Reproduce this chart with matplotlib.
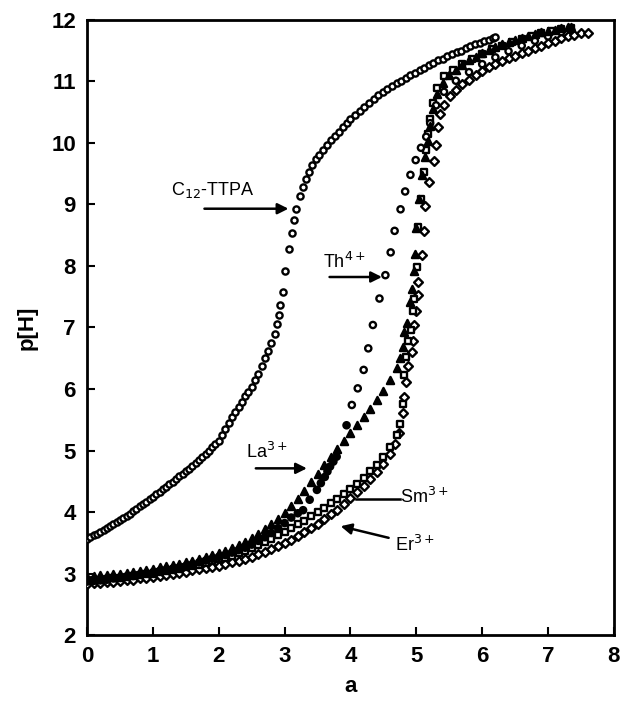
import matplotlib
matplotlib.use("Agg")
import matplotlib.pyplot as plt
import numpy as np

plt.rcParams['font.family'] = ['Liberation Sans', 'DejaVu Sans']

# ---------------- data ----------------
c12_x = [0.00, 0.05, 0.10, 0.15, 0.20, 0.25, 0.30, 0.35, 0.40, 0.45, 0.50, 0.55, 0.60, 0.65, 0.70,
         0.75, 0.80, 0.85, 0.90, 0.95, 1.00, 1.05, 1.10, 1.15, 1.20, 1.25, 1.30, 1.35, 1.40, 1.45,
         1.50, 1.55, 1.60, 1.65, 1.70, 1.75, 1.80, 1.85, 1.90, 1.95, 2.00, 2.05, 2.10, 2.15, 2.20,
         2.25, 2.30, 2.35, 2.40, 2.45, 2.50, 2.55, 2.60, 2.65, 2.70, 2.75, 2.80, 2.85, 2.88, 2.91,
         2.93, 2.97, 3.01, 3.06, 3.11, 3.14, 3.18, 3.24, 3.28, 3.32, 3.37, 3.42, 3.47, 3.52, 3.58,
         3.64, 3.70, 3.76, 3.82, 3.88, 3.94, 4.00, 4.07, 4.14, 4.21, 4.28, 4.35, 4.42, 4.49, 4.56,
         4.63, 4.70, 4.77, 4.84, 4.91, 4.98, 5.05, 5.12, 5.19, 5.26, 5.33, 5.40, 5.47, 5.54, 5.61,
         5.68, 5.75, 5.82, 5.89, 5.96, 6.03, 6.10, 6.17, 6.20]
c12_y = [3.56, 3.59, 3.62, 3.65, 3.68, 3.71, 3.74, 3.77, 3.80, 3.83, 3.87, 3.90, 3.94, 3.97, 4.01,
         4.05, 4.09, 4.13, 4.17, 4.21, 4.25, 4.29, 4.33, 4.37, 4.41, 4.45, 4.49, 4.53, 4.58, 4.62,
         4.66, 4.70, 4.75, 4.80, 4.85, 4.90, 4.95, 5.00, 5.05, 5.10, 5.16, 5.25, 5.35, 5.45, 5.54,
         5.62, 5.70, 5.79, 5.88, 5.95, 6.03, 6.14, 6.25, 6.37, 6.50, 6.62, 6.75, 6.90, 7.05, 7.20,
         7.36, 7.57, 7.91, 8.28, 8.53, 8.74, 8.93, 9.14, 9.29, 9.41, 9.53, 9.64, 9.73, 9.81, 9.89,
         9.97, 10.04, 10.11, 10.18, 10.25, 10.32, 10.38, 10.45, 10.52, 10.59, 10.65, 10.71, 10.77, 10.82, 10.87,
         10.92, 10.97, 11.01, 11.06, 11.10, 11.14, 11.18, 11.22, 11.26, 11.30, 11.34, 11.37, 11.41, 11.44, 11.47,
         11.50, 11.54, 11.57, 11.60, 11.63, 11.66, 11.68, 11.71, 11.72]

th_x = [0.0, 0.1, 0.2, 0.3, 0.4, 0.5, 0.6, 0.7, 0.8, 0.9, 1.0, 1.1, 1.2, 1.3, 1.4, 1.5, 1.6, 1.7,
        1.8, 1.9, 2.0, 2.1, 2.2, 2.3, 2.4, 2.5, 2.6, 2.7, 2.8, 2.9, 3.0, 3.1, 3.2, 3.28, 3.38, 3.49,
        3.55, 3.61, 3.65, 3.69, 3.74, 3.79, 3.94, 4.02, 4.11, 4.20, 4.27, 4.34, 4.44, 4.53, 4.61,
        4.67, 4.76, 4.83, 4.91, 4.99, 5.07, 5.15, 5.21, 5.30, 5.42, 5.60, 5.80, 6.00, 6.20, 6.40,
        6.60, 6.80, 7.00, 7.20, 7.35]
th_y = [2.87, 2.88, 2.89, 2.90, 2.92, 2.93, 2.95, 2.96, 2.98, 3.00, 3.02, 3.04, 3.06, 3.08, 3.10,
        3.12, 3.15, 3.18, 3.21, 3.24, 3.27, 3.30, 3.34, 3.38, 3.42, 3.47, 3.53, 3.59, 3.66, 3.74,
        3.82, 3.91, 3.98, 4.03, 4.20, 4.36, 4.47, 4.57, 4.66, 4.74, 4.82, 4.90, 5.41, 5.74, 6.01,
        6.31, 6.66, 7.04, 7.47, 7.85, 8.22, 8.57, 8.92, 9.21, 9.48, 9.72, 9.92, 10.10, 10.32, 10.61,
        10.83, 11.01, 11.15, 11.28, 11.39, 11.49, 11.58, 11.66, 11.73, 11.80, 11.84]

la_x = [0.0, 0.1, 0.2, 0.3, 0.4, 0.5, 0.6, 0.7, 0.8, 0.9, 1.0, 1.1, 1.2, 1.3, 1.4, 1.5, 1.6, 1.7,
        1.8, 1.9, 2.0, 2.1, 2.2, 2.3, 2.4, 2.5, 2.6, 2.7, 2.8, 2.9, 3.0, 3.1, 3.2, 3.3, 3.4, 3.5,
        3.6, 3.7, 3.8, 3.9, 4.0, 4.1, 4.2, 4.3, 4.4, 4.5, 4.6, 4.7, 4.75, 4.8, 4.82, 4.86, 4.90,
        4.93, 4.96, 4.98, 5.00, 5.04, 5.08, 5.13, 5.17, 5.21, 5.26, 5.32, 5.40, 5.50, 5.60, 5.70,
        5.80, 5.90, 6.00, 6.10, 6.20, 6.30, 6.40, 6.50, 6.60, 6.70, 6.80, 6.90, 7.00, 7.10, 7.20,
        7.30, 7.35]
la_y = [2.95, 2.96, 2.97, 2.98, 2.99, 3.00, 3.01, 3.03, 3.04, 3.06, 3.08, 3.10, 3.12, 3.14, 3.16,
        3.18, 3.21, 3.24, 3.27, 3.30, 3.33, 3.37, 3.41, 3.46, 3.51, 3.57, 3.64, 3.72, 3.80, 3.89,
        3.98, 4.09, 4.21, 4.34, 4.48, 4.62, 4.76, 4.90, 5.03, 5.16, 5.29, 5.42, 5.55, 5.68, 5.82,
        5.97, 6.14, 6.34, 6.50, 6.68, 6.93, 7.07, 7.42, 7.62, 7.91, 8.20, 8.61, 9.08, 9.48, 9.77,
        10.03, 10.28, 10.55, 10.80, 10.98, 11.10, 11.19, 11.27, 11.34, 11.40, 11.46, 11.51, 11.56, 11.60, 11.64,
        11.68, 11.71, 11.74, 11.77, 11.80, 11.82, 11.84, 11.86, 11.88, 11.89]

sm_x = [0.0, 0.1, 0.2, 0.3, 0.4, 0.5, 0.6, 0.7, 0.8, 0.9, 1.0, 1.1, 1.2, 1.3, 1.4, 1.5, 1.6, 1.7,
        1.8, 1.9, 2.0, 2.1, 2.2, 2.3, 2.4, 2.5, 2.6, 2.7, 2.8, 2.9, 3.0, 3.1, 3.2, 3.3, 3.4, 3.5,
        3.6, 3.7, 3.8, 3.9, 4.0, 4.1, 4.2, 4.3, 4.4, 4.5, 4.6, 4.7, 4.75, 4.80, 4.82, 4.85, 4.88,
        4.92, 4.95, 4.97, 5.01, 5.02, 5.07, 5.11, 5.14, 5.18, 5.21, 5.26, 5.32, 5.42, 5.55, 5.70,
        5.85, 6.00, 6.15, 6.30, 6.45, 6.60, 6.75, 6.90, 7.05, 7.20, 7.35]
sm_y = [2.88, 2.89, 2.90, 2.91, 2.92, 2.93, 2.94, 2.96, 2.97, 2.99, 3.00, 3.02, 3.04, 3.06, 3.08,
        3.10, 3.12, 3.14, 3.17, 3.20, 3.23, 3.26, 3.29, 3.33, 3.37, 3.41, 3.46, 3.51, 3.56, 3.62,
        3.68, 3.74, 3.80, 3.86, 3.93, 4.00, 4.07, 4.14, 4.21, 4.29, 4.37, 4.46, 4.56, 4.66, 4.77,
        4.90, 5.05, 5.25, 5.43, 5.75, 6.23, 6.52, 6.78, 6.96, 7.26, 7.47, 7.99, 8.64, 9.08, 9.52,
        9.88, 10.14, 10.39, 10.65, 10.90, 11.08, 11.18, 11.28, 11.37, 11.45, 11.52, 11.58, 11.64, 11.69, 11.74,
        11.78, 11.82, 11.85, 11.87]

er_x = [0.0, 0.1, 0.2, 0.3, 0.4, 0.5, 0.6, 0.7, 0.8, 0.9, 1.0, 1.1, 1.2, 1.3, 1.4, 1.5, 1.6, 1.7,
        1.8, 1.9, 2.0, 2.1, 2.2, 2.3, 2.4, 2.5, 2.6, 2.7, 2.8, 2.9, 3.0, 3.1, 3.2, 3.3, 3.4, 3.5,
        3.6, 3.7, 3.8, 3.9, 4.0, 4.1, 4.2, 4.3, 4.4, 4.5, 4.6, 4.67, 4.73, 4.79, 4.82, 4.85, 4.88,
        4.94, 4.95, 4.97, 5.00, 5.03, 5.03, 5.09, 5.12, 5.13, 5.19, 5.27, 5.30, 5.33, 5.36, 5.42,
        5.51, 5.60, 5.70, 5.80, 5.90, 6.00, 6.10, 6.20, 6.30, 6.40, 6.50, 6.60, 6.70, 6.80, 6.90,
        7.00, 7.10, 7.20, 7.30, 7.40, 7.50, 7.60]
er_y = [2.83, 2.84, 2.85, 2.86, 2.87, 2.88, 2.89, 2.90, 2.92, 2.93, 2.95, 2.96, 2.98, 2.99, 3.01,
        3.03, 3.05, 3.07, 3.09, 3.11, 3.13, 3.15, 3.18, 3.21, 3.24, 3.27, 3.31, 3.35, 3.40, 3.45,
        3.50, 3.55, 3.61, 3.67, 3.74, 3.81, 3.88, 3.96, 4.04, 4.13, 4.22, 4.32, 4.42, 4.53, 4.65,
        4.78, 4.94, 5.10, 5.28, 5.61, 5.87, 6.12, 6.38, 6.60, 6.78, 7.04, 7.26, 7.52, 7.74, 8.17,
        8.57, 8.97, 9.37, 9.70, 9.97, 10.25, 10.47, 10.61, 10.76, 10.86, 10.95, 11.03, 11.10, 11.17, 11.23,
        11.28, 11.33, 11.38, 11.42, 11.46, 11.50, 11.54, 11.58, 11.62, 11.66, 11.70, 11.73, 11.76, 11.78, 11.78]

x_ticks = [0, 1, 2, 3, 4, 5, 6, 7, 8]
y_ticks = [2, 3, 4, 5, 6, 7, 8, 9, 10, 11, 12]

# ---------------- figure ----------------
fig = plt.figure(figsize=(6.22, 7.08), dpi=100)
ax = fig.add_axes([0.140, 0.103, 0.847, 0.869])

ms = 20
lw_m = 1.7
ax.scatter(er_x, er_y, s=ms, marker='D', facecolors='white', edgecolors='black', linewidths=lw_m, zorder=3)
ax.scatter(sm_x, sm_y, s=ms, marker='s', facecolors='white', edgecolors='black', linewidths=lw_m, zorder=3)
th_fc = ['black' if xv < 3.97 else 'white' for xv in th_x]
ax.scatter(th_x, th_y, s=ms, marker='o', facecolors=th_fc, edgecolors='black', linewidths=lw_m, zorder=4)
ax.scatter(la_x, la_y, s=ms + 6, marker='^', facecolors='black', edgecolors='black', linewidths=lw_m, zorder=4)
ax.scatter(c12_x, c12_y, s=ms, marker='o', facecolors='white', edgecolors='black', linewidths=lw_m, zorder=4)

ax.set_xlim(0, 8)
ax.set_ylim(2, 12)
ax.set_xticks(x_ticks)
ax.set_yticks(y_ticks)
ax.tick_params(direction='in', length=6, width=1.5, labelsize=16, pad=8,
               top=False, right=False)
for lab in ax.get_xticklabels() + ax.get_yticklabels():
    lab.set_fontweight('bold')
for sp in ax.spines.values():
    sp.set_linewidth(2)

ax.set_xlabel('a', fontsize=16, fontweight='bold', labelpad=6)
ax.set_ylabel('p[H]', fontsize=16, fontweight='bold', labelpad=10)

# annotations
tfs = 13
arrow = dict(arrowstyle='-|>', color='black', lw=1.8, mutation_scale=16)
ax.annotate('', xy=(3.10, 8.93), xytext=(1.74, 8.93), arrowprops=arrow)
ax.text(1.28, 9.24, r'C$_{12}$-TTPA', fontsize=tfs, va='center', ha='left')

ax.annotate('', xy=(4.52, 7.82), xytext=(3.64, 7.82), arrowprops=arrow)
ax.text(3.58, 8.06, r'Th$^{4+}$', fontsize=tfs, va='center', ha='left')

ax.annotate('', xy=(3.38, 4.71), xytext=(2.52, 4.71), arrowprops=arrow)
ax.text(2.42, 4.97, r'La$^{3+}$', fontsize=tfs, va='center', ha='left')

ax.plot([4.09, 4.75], [4.21, 4.21], color='black', lw=1.8)
ax.text(4.75, 4.24, r'Sm$^{3+}$', fontsize=tfs, va='center', ha='left')

ax.annotate('', xy=(3.81, 3.78), xytext=(4.62, 3.57), arrowprops=arrow)
ax.text(4.67, 3.47, r'Er$^{3+}$', fontsize=tfs, va='center', ha='left')

fig.savefig('out.png', dpi=100)
